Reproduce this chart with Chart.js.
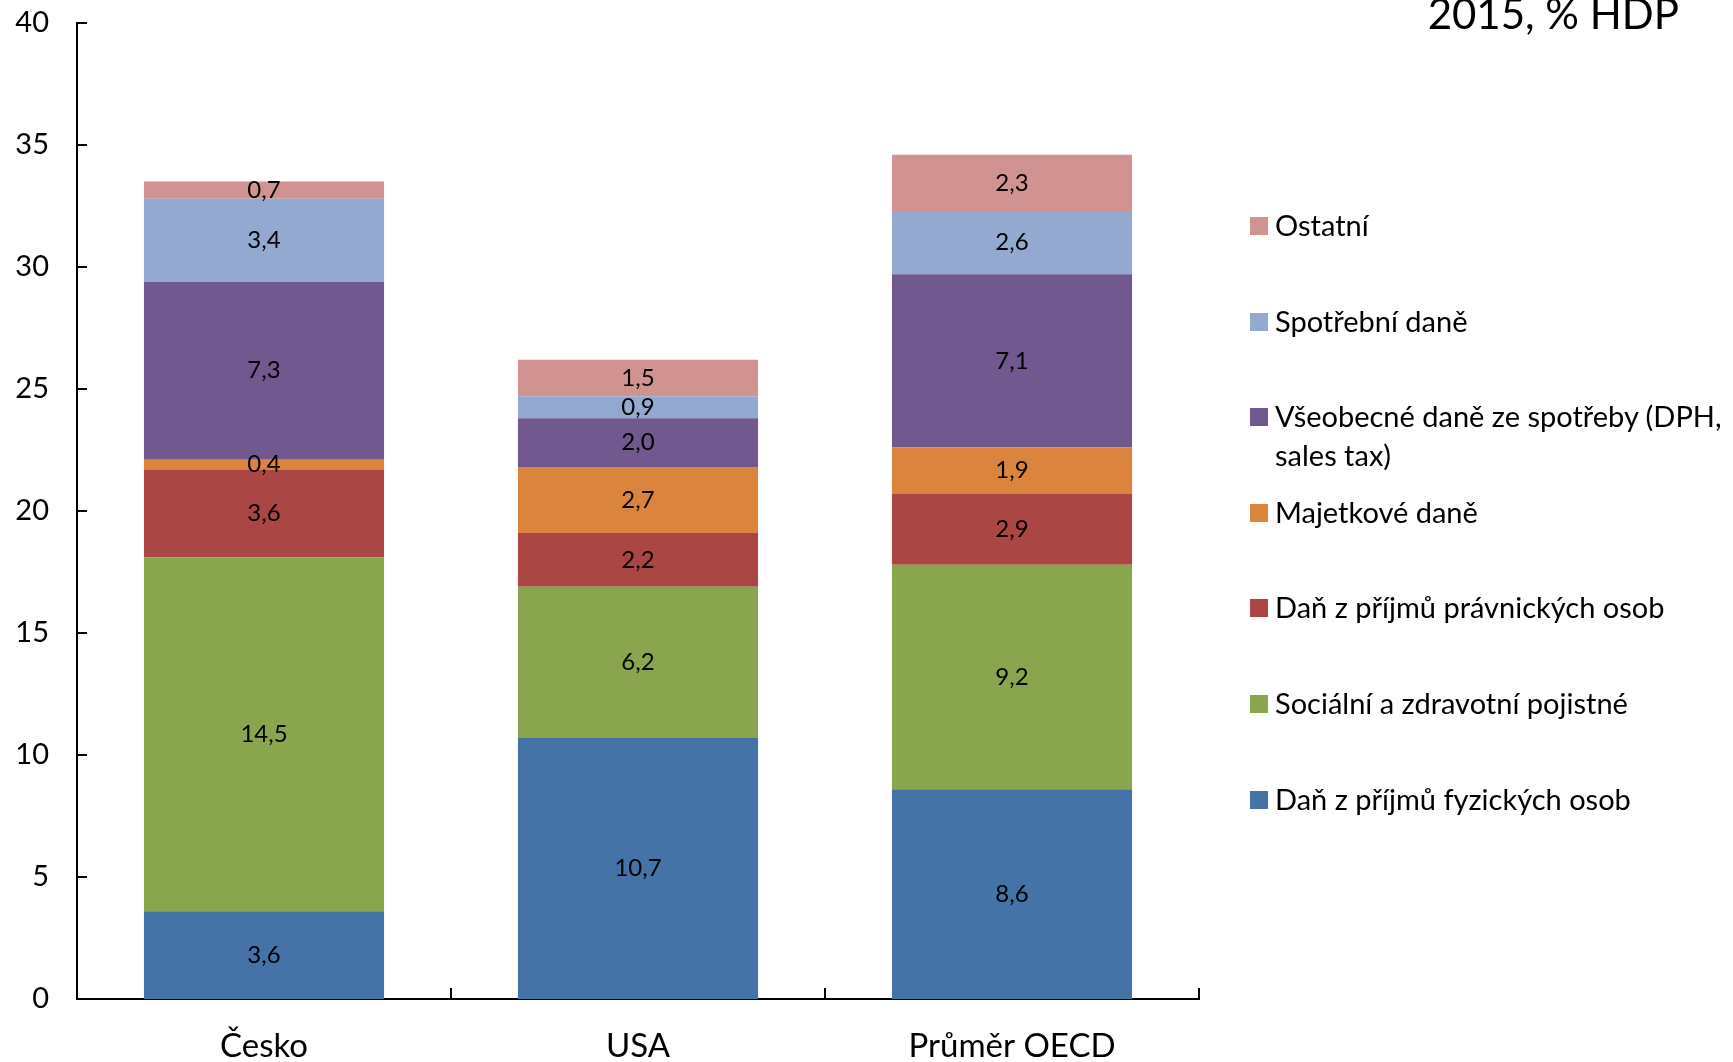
<!DOCTYPE html>
<html lang="cs">
<head>
<meta charset="utf-8">
<title>Daňová struktura 2015</title>
<script src="https://cdn.jsdelivr.net/npm/chart.js@4.4.1/dist/chart.umd.min.js"></script>
<style>
    html, body { margin: 0; padding: 0; background: #fff; overflow: hidden; }
    #wrap { position: relative; width: 1733px; height: 1062px; font-family: Lato, 'Open Sans', sans-serif; }
    #taxChart { position: absolute; left: 0; top: 0; }
    #chartTitle { position: absolute; right: 54px; top: -8px; font-size: 42px; line-height: 42px; color: #000; white-space: nowrap; }
    .legend-item { position: absolute; left: 1250px; font-size: 29px; line-height: 39px; color: #000; }
    .legend-item .box { position: absolute; left: 0; top: 12px; width: 18px; height: 18px; }
    .legend-item .txt { display: block; margin-left: 25px; width: 470px; }
</style>
</head>
<body>
<div id="wrap">
    <canvas id="taxChart" width="1733" height="1062"></canvas>
    <div id="chartTitle">2015, % HDP</div>
    <div id="legend"></div>
</div>
<script>
// kategorie a hodnoty (% HDP), odspodu nahoru
const categories = ['Česko', 'USA', 'Průměr OECD'];
const seriesNames = [
    'Daň z příjmů fyzických osob',
    'Sociální a zdravotní pojistné',
    'Daň z příjmů právnických osob',
    'Majetkové daně',
    'Všeobecné daně ze spotřeby (DPH, sales tax)',
    'Spotřební daně',
    'Ostatní'
];
const danFyzicke = [3.6, 10.7, 8.6];
const pojistne = [14.5, 6.2, 9.2];
const danPravnicke = [3.6, 2.2, 2.9];
const majetkove = [0.4, 2.7, 1.9];
const vseobecneSpotreba = [7.3, 2.0, 7.1];
const spotrebni = [3.4, 0.9, 2.6];
const ostatni = [0.7, 1.5, 2.3];
const yTicks = [0, 5, 10, 15, 20, 25, 30, 35, 40];

const seriesValues = [danFyzicke, pojistne, danPravnicke, majetkove, vseobecneSpotreba, spotrebni, ostatni];
const colors = ['#4572A7', '#89A54E', '#AA4643', '#DB843D', '#71588F', '#93A9CF', '#D19392'];

const FONT = "Lato, 'Open Sans', sans-serif";

function fmt(v) {
    return v.toFixed(1).replace('.', ',');
}

// popisky hodnot uprostřed segmentů
const valueLabels = {
    id: 'valueLabels',
    afterDatasetsDraw(chart) {
        const ctx = chart.ctx;
        ctx.save();
        ctx.font = '24px ' + FONT;
        ctx.fillStyle = '#000';
        ctx.textAlign = 'center';
        ctx.textBaseline = 'middle';
        chart.data.datasets.forEach((ds, i) => {
            const meta = chart.getDatasetMeta(i);
            meta.data.forEach((bar, j) => {
                const p = bar.getCenterPoint();
                ctx.fillText(fmt(ds.data[j]), p.x, p.y);
            });
        });
        ctx.restore();
    }
};

// značky os směrem dovnitř grafu
const innerTicks = {
    id: 'innerTicks',
    afterDraw(chart) {
        const ctx = chart.ctx;
        const x = chart.scales.x;
        const y = chart.scales.y;
        ctx.save();
        ctx.strokeStyle = '#000';
        ctx.lineWidth = 2;
        ctx.beginPath();
        y.ticks.forEach((t, i) => {
            const py = y.getPixelForTick(i);
            ctx.moveTo(x.left, py);
            ctx.lineTo(x.left + 10, py);
        });
        categories.forEach((c, i) => {
            const px = x.getPixelForValue(i + 0.5);
            ctx.moveTo(px, y.bottom);
            ctx.lineTo(px, y.bottom - 11);
        });
        ctx.stroke();
        ctx.restore();
    }
};

const chart = new Chart(document.getElementById('taxChart'), {
    type: 'bar',
    data: {
        labels: categories,
        datasets: seriesNames.map((name, i) => ({
            label: name,
            data: seriesValues[i],
            backgroundColor: colors[i],
            borderWidth: 0,
            barPercentage: 0.642,
            categoryPercentage: 1.0
        }))
    },
    options: {
        responsive: false,
        animation: false,
        devicePixelRatio: 1,
        layout: {
            padding: { top: 23, right: 534, left: 0, bottom: 0 }
        },
        plugins: {
            legend: { display: false },
            title: { display: false },
            tooltip: { enabled: false }
        },
        scales: {
            x: {
                stacked: true,
                grid: { display: false, drawTicks: false },
                border: { display: true, color: '#000', width: 2 },
                ticks: {
                    color: '#000',
                    padding: 28,
                    font: { family: FONT, size: 33 }
                },
                afterFit(scale) { scale.height = 63; }
            },
            y: {
                stacked: true,
                min: 0,
                max: 40,
                grid: { display: false, drawTicks: false },
                border: { display: true, color: '#000', width: 2 },
                afterBuildTicks(scale) {
                    scale.ticks = yTicks.map(v => ({ value: v }));
                },
                ticks: {
                    color: '#000',
                    padding: 28,
                    font: { family: FONT, size: 29 }
                },
                afterFit(scale) {
                    scale.width = 77;
                    scale.paddingTop = 0;
                    scale.paddingBottom = 0;
                }
            }
        }
    },
    plugins: [valueLabels, innerTicks]
});

// legenda v obráceném pořadí (jako sloupce)
function buildLegend() {
    const el = document.getElementById('legend');
    const items = chart.data.datasets.map((ds, i) => ({ text: ds.label, color: ds.backgroundColor })).reverse();
    el.innerHTML = items.map((it, k) => `
        <div class="legend-item" style="top:${Math.round(205 + k * 95.6)}px">
            <span class="box" style="background:${it.color}"></span>
            <span class="txt">${it.text}</span>
        </div>`).join('');
}
buildLegend();
</script>
</body>
</html>
